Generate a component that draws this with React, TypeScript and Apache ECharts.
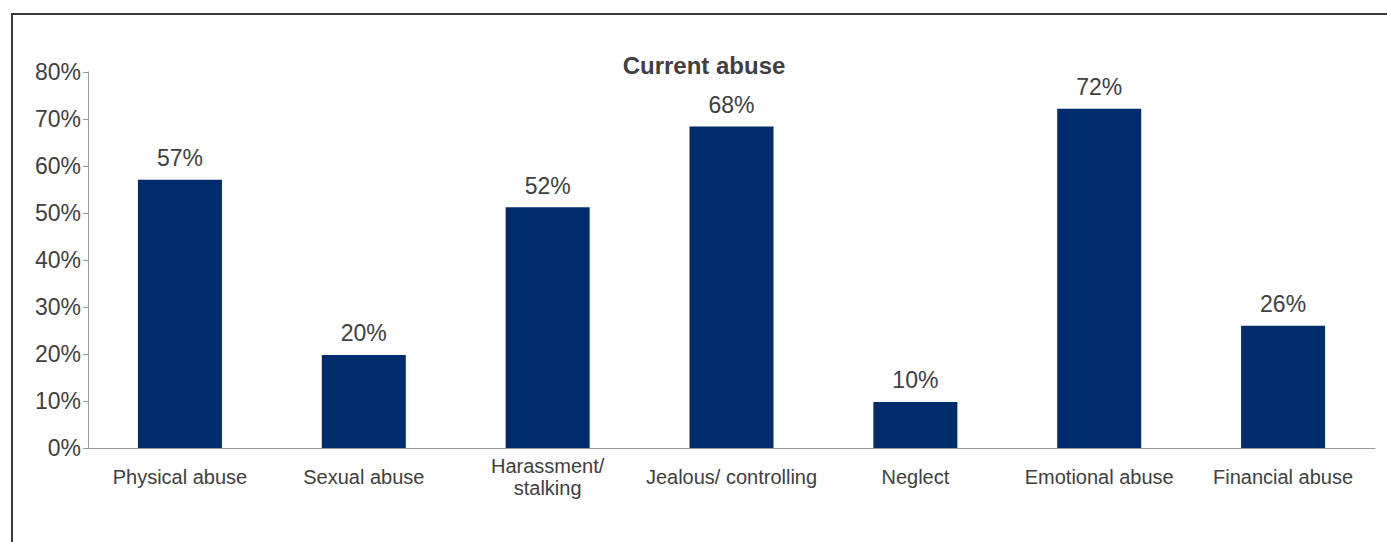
import React, { useEffect, useRef } from "react";
import * as echarts from "echarts";

const categories = [
  "Physical abuse",
  "Sexual abuse",
  "Harassment/\nstalking",
  "Jealous/ controlling",
  "Neglect",
  "Emotional abuse",
  "Financial abuse",
];
const values = [57.1, 19.8, 51.2, 68.4, 9.8, 72.2, 26.0];
const valueLabels = ["57%", "20%", "52%", "68%", "10%", "72%", "26%"];
const title = "Current abuse";

const FONT = "'Liberation Sans', Arial, sans-serif";
const TEXT = "#404040";

export default function App() {
  const ref = useRef<HTMLDivElement>(null);
  useEffect(() => {
    if (!ref.current) return;
    const chart = echarts.init(ref.current, undefined, { renderer: "svg" });
    chart.setOption({
      animation: false,
      backgroundColor: "#ffffff",
      title: {
        text: title,
        left: 699,
        top: 48,
        textAlign: "center",
        textStyle: { fontFamily: FONT, fontSize: 24, fontWeight: "bold", color: TEXT },
      },
      graphic: [
        {
          type: "rect",
          shape: { x: 12, y: 14, width: 1400, height: 600 },
          style: { fill: "none", stroke: "#3a3a3a", lineWidth: 2 },
          z: 100,
        },
      ],
      grid: { left: 88, right: 12, top: 72, bottom: 94 },
      xAxis: {
        type: "category",
        data: categories,
        axisLine: { lineStyle: { color: "#999999", width: 1 } },
        axisTick: { show: false },
        axisLabel: {
          fontFamily: FONT,
          fontSize: 20,
          color: TEXT,
          margin: 29,
          lineHeight: 22,
          verticalAlign: "middle",
          interval: 0,
        },
      },
      yAxis: {
        type: "value",
        min: 0,
        max: 80,
        interval: 10,
        splitLine: { show: false },
        axisLine: { show: true, lineStyle: { color: "#999999", width: 1 } },
        axisTick: { show: true, length: 5, lineStyle: { color: "#999999" } },
        axisLabel: {
          formatter: "{value}%",
          fontFamily: FONT,
          fontSize: 23,
          color: TEXT,
          margin: 7,
        },
      },
      series: [
        {
          type: "bar",
          data: values,
          barWidth: 84,
          itemStyle: { color: "#002b6d" },
          label: {
            show: true,
            position: "top",
            distance: 10,
            fontFamily: FONT,
            fontSize: 23,
            color: TEXT,
            formatter: (p: any) => valueLabels[p.dataIndex],
          },
        },
      ],
    });
    return () => chart.dispose();
  }, []);
  return (
    <div
      ref={ref}
      style={{ position: "fixed", left: 0, top: 0, width: 1387, height: 542 }}
    />
  );
}
